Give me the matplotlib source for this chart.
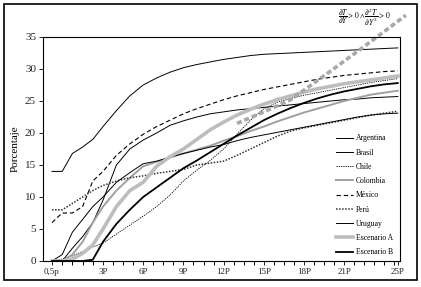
import matplotlib
matplotlib.use('Agg')
import matplotlib.pyplot as plt
import numpy as np
from matplotlib.patches import Rectangle

plt.rcParams['font.family'] = ['Liberation Serif', 'DejaVu Serif']
plt.rcParams['mathtext.fontset'] = 'stix'

# periods (in P units) at which each series is read
periods = [0.5, 1, 1.5, 2, 2.5, 3, 4, 5, 6, 7, 8, 9, 10, 11, 12, 13, 14,
           15, 16, 17, 18, 19, 20, 21, 22, 23, 24, 25]

argentina = [14, 14, 16.8, 17.8, 19, 21, 23.5, 25.8, 27.5, 28.6, 29.5, 30.2, 30.7, 31.1,
             31.5, 31.8, 32.1, 32.3, 32.4, 32.5, 32.6, 32.7, 32.8, 32.9, 33.0, 33.1, 33.2, 33.3]
brasil = [0, 0, 2, 3.8, 6, 9.5, 15, 17.5, 18.9, 20, 21.2, 21.9, 22.5, 23,
          23.3, 23.6, 23.8, 24, 24.2, 24.4, 24.6, 24.8, 25, 25.2, 25.3, 25.5, 25.6, 25.7]
chile = [0, 0.3, 0.8, 1.5, 2.2, 2.8, 4.2, 5.6, 7, 8.5, 10.3, 12.5, 14.2, 15.7,
         17.5, 19.8, 22, 23.8, 24.8, 25.4, 25.9, 26.3, 26.7, 27.1, 27.5, 27.9, 28.2, 28.5]
colombia = [0, 0, 1, 3, 6, 8.5, 11, 13, 14.8, 15.5, 16.2, 16.8, 17.4, 18,
            18.8, 19.5, 20.3, 21, 21.8, 22.5, 23.2, 23.8, 24.4, 25, 25.5, 26, 26.3, 26.6]
mexico = [6, 7.5, 7.5, 8.5, 12.5, 14, 16.5, 18.3, 19.8, 21, 22, 23, 23.8, 24.5,
          25.2, 25.8, 26.3, 26.8, 27.2, 27.6, 28, 28.4, 28.7, 29, 29.2, 29.4, 29.6, 29.7]
peru = [8, 8, 9, 10, 11, 11.8, 12.5, 13, 13.3, 13.7, 14, 14.3, 15, 15.3,
        15.6, 16.5, 17.5, 18.5, 19.5, 20.3, 20.8, 21.2, 21.6, 22, 22.4, 22.8, 23.1, 23.4]
uruguay = [0, 1, 4.5, 6.5, 8.5, 10, 12.3, 13.8, 15.2, 15.6, 16.2, 16.8, 17.3, 17.8,
           18.2, 18.8, 19.3, 19.7, 20.1, 20.5, 20.9, 21.3, 21.7, 22.1, 22.5, 22.8, 23.0, 23.1]
esc_a = [0, 0, 0.3, 1.2, 2.5, 5, 8.5, 11, 12.3, 14.8, 16.3, 17.5, 19, 20.5,
         21.7, 22.8, 23.7, 24.5, 25.2, 25.8, 26.4, 26.9, 27.3, 27.7, 28.0, 28.3, 28.6, 28.9]
esc_b = [0, 0, 0, 0, 0.2, 3, 5.8, 8, 10, 11.5, 13, 14.5, 15.7, 17,
         18.3, 19.6, 20.8, 22, 23, 23.9, 24.7, 25.4, 26, 26.5, 26.9, 27.3, 27.6, 27.8]

# convex path for the annotated scenario
trend_p = [13, 15, 17, 20, 23, 25.6]
trend_v = [21.5, 23.3, 25.2, 29.7, 34.3, 38.4]

tick_p = [0.5, 3, 6, 9, 12, 15, 18, 21, 25]
tick_lab = ['0,5p', '3P', '6P', '9P', '12P', '15P', '18P', '21P', '25P']

# x axis is stretched at the start (half periods) then uniform
def fwd(p):
    return np.interp(p, [-10, 0.5, 3, 40], [52 - 10.5 * 20.4, 52, 103, 103 + 37 * 13.4])
def inv(u):
    return np.interp(u, [52 - 10.5 * 20.4, 52, 103, 103 + 37 * 13.4], [-10, 0.5, 3, 40])

fig = plt.figure(figsize=(4.21, 2.87), dpi=100)
ax = fig.add_axes([43/421, 1-261/287, 357/421, 224/287])
ax.set_xscale('function', functions=(fwd, inv))

ax.plot(periods, argentina, color='black', lw=0.7, label='Argentina')
ax.plot(periods, brasil, color='black', lw=0.7, label='Brasil')
ax.plot(periods, chile, color='black', lw=0.6, ls=(0, (1.5, 1.2)), label='Chile')
ax.plot(periods, colombia, color='#a0a0a0', lw=1.4, label='Colombia')
ax.plot(periods, mexico, color='black', lw=0.8, ls=(0, (4, 2.5)), label='México')
ax.plot(periods, peru, color='#333333', lw=1.1, ls=(0, (1, 1)), label='Perú')
ax.plot(periods, uruguay, color='black', lw=0.7, label='Uruguay')
ax.plot(periods, esc_a, color='#bdbdbd', lw=2.6, label='Escenario A')
ax.plot(periods, esc_b, color='black', lw=1.3, label='Escenario B')
ax.plot(trend_p, trend_v, color='#a8a8a8', lw=2.6, ls=(0, (1.4, 0.8)), clip_on=False)

ax.set_xlim(inv(43), inv(400))
ax.set_ylim(0, 35)
ax.set_yticks(range(0, 36, 5))
ax.set_xticks(tick_p)
ax.set_xticklabels(tick_lab)
minor = list(np.arange(1, 3, 0.5)) + list(np.arange(3.75, 25, 0.75))
ax.set_xticks(minor, minor=True)
ax.tick_params(axis='x', which='major', length=3, width=0.7, labelsize=6.5, pad=2, colors='#222222')
ax.tick_params(axis='x', which='minor', length=3, width=0.7)
ax.tick_params(axis='y', length=3, width=0.7, labelsize=8, pad=2, colors='#222222')
for s in ax.spines.values():
    s.set_linewidth(0.8)
ax.set_ylabel('Porcentaje', fontsize=8, labelpad=4)

leg = ax.legend(loc='lower right', bbox_to_anchor=(1.0, -0.01), frameon=False, fontsize=5.5,
                handlelength=2.2, labelspacing=0.82, handletextpad=0.45)

fig.text(0.865, 0.94, r'$\dfrac{\partial T}{\partial Y}>0\wedge\dfrac{\partial^2 T}{\partial Y^2}>0$',
         fontsize=5.5, ha='center', va='center')

fig.patches.append(Rectangle((4/421, 1-280/287), 413/421, 276/287, transform=fig.transFigure,
                             fill=False, lw=1.2, ec='black'))

fig.savefig('out.png', dpi=100)
